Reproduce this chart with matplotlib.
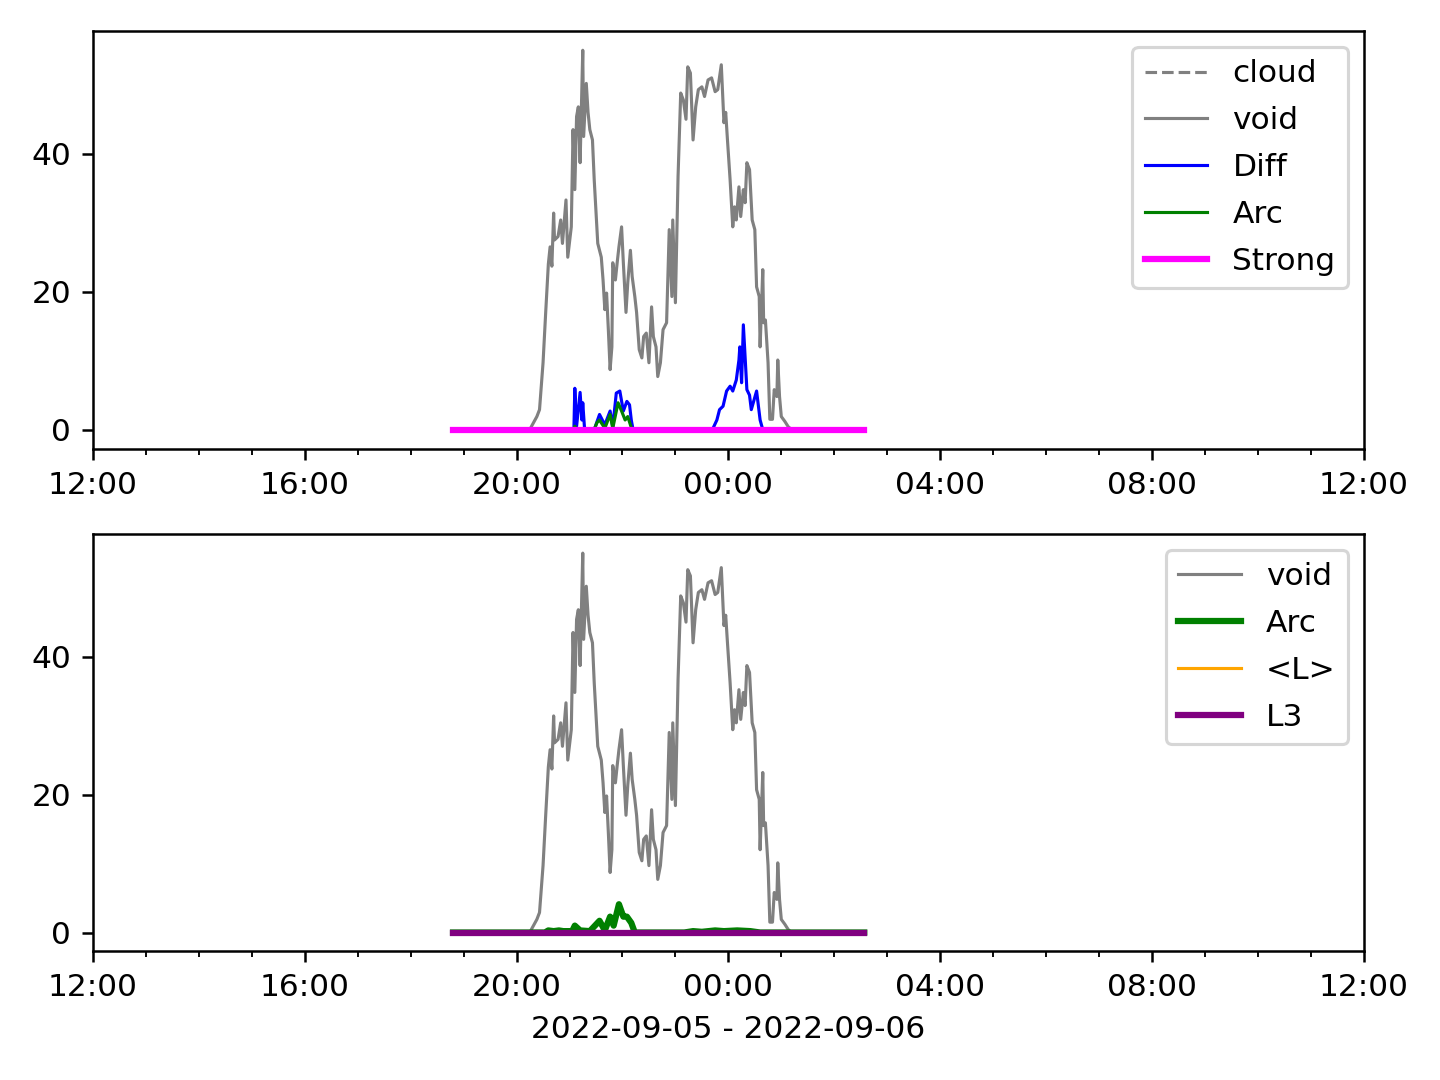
import matplotlib
matplotlib.use('Agg')
import matplotlib.pyplot as plt
import matplotlib.dates as mdates
from datetime import datetime, timedelta

# czas i wartosci
void_t = ["18:48", "20:15", "20:17", "20:23", "20:26", "20:30", "20:33", "20:36", "20:38", "20:40",
          "20:42", "20:43", "20:47", "20:50", "20:52", "20:56", "20:58", "21:02", "21:04",
          "21:06", "21:08", "21:10", "21:12", "21:15", "21:16", "21:19", "21:21", "21:23",
          "21:26", "21:28", "21:32", "21:36", "21:38", "21:40", "21:42", "21:44", "21:46",
          "21:48", "21:49", "21:52", "21:54", "21:56", "21:59", "22:01", "22:04", "22:06",
          "22:09", "22:11", "22:14", "22:16", "22:19", "22:22", "22:24", "22:27", "22:30",
          "22:33", "22:35", "22:38", "22:40", "22:43", "22:46", "22:50", "22:53", "22:56",
          "22:57", "23:00", "23:03", "23:06", "23:09", "23:12", "23:14", "23:17", "23:20",
          "23:23", "23:26", "23:30", "23:33", "23:37", "23:41", "23:45", "23:48", "23:52",
          "23:55", "23:57", "23:59", "00:02", "00:05", "00:07", "00:09", "00:12", "00:14",
          "00:17", "00:19", "00:21", "00:24", "00:27", "00:30", "00:32", "00:35", "00:36",
          "00:39", "00:40", "00:42", "00:45", "00:47", "00:50", "00:52", "00:55", "00:56",
          "00:58", "01:00", "01:04", "01:08", "01:12", "02:34"]
void_v = [0, 0, 0.5, 1.9, 2.9, 9.7, 17, 24, 26.5, 23.7,
          31.4, 27.5, 28, 30.4, 27, 33.3, 25, 29.4, 43.5,
          34.8, 45.4, 46.8, 38.7, 55, 42.5, 50.2, 46, 43.5,
          42, 36.2, 27, 25, 21.7, 17.4, 19.8, 14.5, 8.7,
          12, 24.2, 21.7, 24.2, 26.5, 29.4, 24.2, 17, 21.3,
          26, 22.2, 19.3, 17, 11.6, 10.4, 13.5, 14, 9.7,
          17.8, 13.5, 12, 7.7, 9.7, 14.5, 15.5, 29, 19.3,
          30.4, 18.4, 36.7, 48.8, 47.8, 45, 52.6, 51.7, 42,
          46.8, 49.3, 49.7, 48.3, 50.7, 51, 49, 49.3, 52.9,
          44.5, 46, 42, 36.2, 29.4, 32.3, 30.4, 35.2, 30.9,
          34.8, 32.9, 38.7, 37.7, 30.4, 29, 20.7, 19.3, 12,
          23.2, 15.5, 15.9, 9.7, 1.5, 1.5, 5.8, 4.8, 10.1,
          4.8, 1.9, 1.2, 0.4, 0, 0]

diff_t = ["18:48", "21:04", "21:05", "21:06", "21:08", "21:12", "21:14", "21:15", "21:17",
          "21:28", "21:34", "21:40", "21:46", "21:49", "21:53", "21:57", "22:01", "22:05",
          "22:08", "22:10", "22:12",
          "23:41", "23:43", "23:47", "23:50", "23:54", "23:58", "00:02", "00:05", "00:09",
          "00:12", "00:13", "00:15", "00:17", "00:21", "00:24", "00:26", "00:32", "00:36",
          "00:39", "02:34"]
diff_v = [0, 0, 0.3, 6.0, 0.5, 5.4, 1.4, 3.9, 0.2,
          0, 2.2, 0.7, 2.7, 0.4, 5.3, 5.6, 2.7, 4.1,
          3.6, 1.4, 0,
          0, 0.3, 1.4, 2.9, 3.4, 5.6, 6.3, 5.6, 7.2,
          10.1, 12, 6.8, 15.2, 5.8, 5, 2.9, 5.6, 1.4,
          0, 0]

arc_top_t = ["18:48", "21:05", "21:06", "21:08", "21:28", "21:31", "21:34", "21:40",
             "21:46", "21:49", "21:55", "21:59", "22:03", "22:06", "22:10", "22:12",
             "02:34"]
arc_top_v = [0, 0, 0.5, 0, 0, 1.0, 1.4, 0.2,
             2.2, 0.2, 3.9, 2.7, 1.4, 1.9, 0.3, 0,
             0]

arc_bot_t = ["18:48", "20:32", "20:36", "20:42", "20:48", "20:53", "21:03", "21:06",
             "21:12", "21:23", "21:34", "21:40", "21:46", "21:50", "21:56", "22:01",
             "22:05", "22:10", "22:14", "23:10", "23:20", "23:30", "23:45", "23:55",
             "00:10", "00:25", "00:36", "02:34"]
arc_bot_v = [0, 0, 0.3, 0.2, 0.3, 0.2, 0.2, 1.0,
             0.3, 0.2, 1.7, 0.3, 2.3, 1.0, 4.1, 2.3,
             2.3, 1.4, 0, 0, 0.2, 0.1, 0.3, 0.2,
             0.3, 0.2, 0, 0]

zero_t = ["18:48", "02:34"]
cloud_v = [0, 0]
strong_v = [0, 0]
l_mean_v = [0, 0]
l3_v = [0, 0]

dzien = datetime(2022, 9, 5)


def na_czas(lista):
    wynik = []
    for s in lista:
        h, m = map(int, s.split(':'))
        t = dzien + timedelta(hours=h, minutes=m)
        if h < 12:
            t += timedelta(days=1)
        wynik.append(t)
    return wynik


fig, (ax1, ax2) = plt.subplots(2, 1, figsize=(6.4, 4.8), dpi=225)
fig.subplots_adjust(left=0.0646, right=0.947, top=0.971, bottom=0.119, hspace=0.205)

ax1.plot(na_czas(zero_t), cloud_v, color='gray', linestyle='--', linewidth=1, label='cloud')
ax1.plot(na_czas(void_t), void_v, color='gray', linewidth=1, label='void')
ax1.plot(na_czas(diff_t), diff_v, color='blue', linewidth=1, label='Diff')
ax1.plot(na_czas(arc_top_t), arc_top_v, color='green', linewidth=1, label='Arc')
ax1.plot(na_czas(zero_t), strong_v, color='magenta', linewidth=2, label='Strong')
ax1.legend(loc='upper right', labelspacing=0.57)

ax2.plot(na_czas(void_t), void_v, color='gray', linewidth=1, label='void')
ax2.plot(na_czas(arc_bot_t), arc_bot_v, color='green', linewidth=2, label='Arc')
ax2.plot(na_czas(zero_t), l_mean_v, color='orange', linewidth=1, label='<L>')
ax2.plot(na_czas(zero_t), l3_v, color='purple', linewidth=2, label='L3')
ax2.legend(loc='upper right', labelspacing=0.57)
ax2.set_xlabel('2022-09-05 - 2022-09-06')

for ax in (ax1, ax2):
    ax.set_xlim(datetime(2022, 9, 5, 12), datetime(2022, 9, 6, 12))
    ax.xaxis.set_major_locator(mdates.HourLocator(byhour=range(0, 24, 4)))
    ax.xaxis.set_minor_locator(mdates.HourLocator())
    ax.xaxis.set_major_formatter(mdates.DateFormatter('%H:%M'))

plt.savefig('out.png')
